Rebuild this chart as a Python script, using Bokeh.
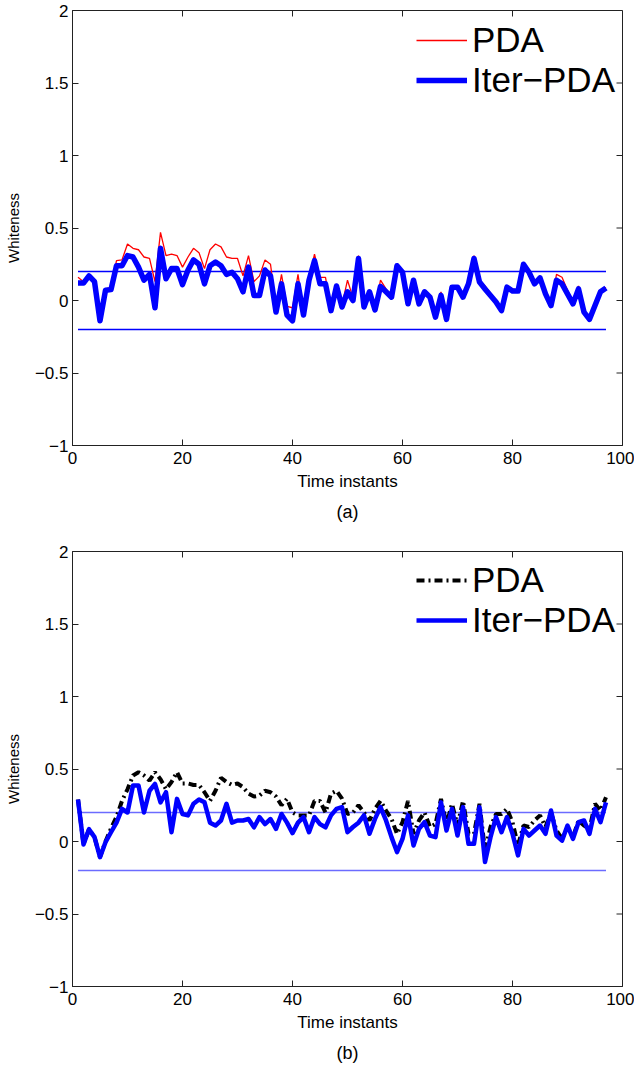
import math
from bokeh.plotting import figure
from bokeh.models import FixedTicker, Title, Legend, LegendItem
from bokeh.layouts import column
from bokeh.embed import file_html
from bokeh.resources import INLINE

# ---------------- data ----------------
time = list(range(1, 98))

pda_a = [0.16, 0.13, 0.17, 0.14, -0.13, 0.08, 0.09, 0.275, 0.28, 0.39,
         0.36, 0.35, 0.30, 0.29, 0.13, 0.47, 0.31, 0.32, 0.31, 0.23,
         0.30, 0.36, 0.33, 0.22, 0.35, 0.39, 0.37, 0.30, 0.29, 0.29,
         0.17, 0.31, 0.13, 0.17, 0.28, 0.25, -0.04, 0.18, -0.04, -0.05,
         0.18, -0.08, 0.15, 0.32, 0.16, 0.16, -0.06, 0.11, -0.03, 0.14,
         0.02, 0.31, -0.04, 0.07, -0.06, 0.14, 0.08, 0.03, 0.25, 0.20,
         -0.02, 0.15, -0.02, 0.07, 0.03, -0.11, 0.06, -0.12, 0.10, 0.10,
         0.03, 0.12, 0.31, 0.14, 0.10, 0.05, 0.00, -0.06, 0.10, 0.08,
         0.07, 0.26, 0.20, 0.12, 0.17, 0.05, -0.03, 0.18, 0.16, 0.07,
         -0.01, 0.10, -0.07, -0.12, -0.03, 0.07, 0.09]

iter_a = [0.12, 0.12, 0.17, 0.13, -0.14, 0.07, 0.075, 0.24, 0.24, 0.31,
          0.30, 0.23, 0.14, 0.18, -0.05, 0.36, 0.15, 0.22, 0.22, 0.11,
          0.21, 0.28, 0.25, 0.115, 0.24, 0.265, 0.24, 0.18, 0.195, 0.15,
          0.06, 0.23, 0.035, 0.035, 0.21, 0.17, -0.08, 0.115, -0.10, -0.14,
          0.115, -0.10, 0.14, 0.275, 0.115, 0.115, -0.07, 0.10, -0.045, 0.06,
          0.00, 0.29, -0.045, 0.06, -0.065, 0.097, 0.06, 0.023, 0.24, 0.195,
          -0.023, 0.14, -0.023, 0.06, 0.023, -0.115, 0.035, -0.13, 0.092, 0.092,
          0.023, 0.115, 0.29, 0.127, 0.08, 0.035, -0.01, -0.07, 0.092, 0.065,
          0.065, 0.25, 0.195, 0.115, 0.156, 0.046, -0.035, 0.14, 0.115, 0.046,
          -0.023, 0.08, -0.08, -0.13, -0.035, 0.06, 0.087]

pda_b = [0.29, -0.02, 0.085, 0.03, -0.108, 0.0, 0.09, 0.17, 0.28, 0.36,
         0.455, 0.478, 0.455, 0.42, 0.478, 0.43, 0.36, 0.41, 0.478, 0.40,
         0.40, 0.39, 0.39, 0.34, 0.28, 0.35, 0.44, 0.41, 0.39, 0.40,
         0.375, 0.33, 0.31, 0.317, 0.35, 0.34, 0.31, 0.25, 0.295, 0.20,
         0.18, 0.18, 0.18, 0.28, 0.28, 0.20, 0.33, 0.35, 0.295, 0.19,
         0.20, 0.25, 0.20, 0.145, 0.225, 0.28, 0.214, 0.156, 0.053, 0.133,
         0.28, 0.053, 0.145, 0.20, 0.10, 0.12, 0.294, 0.12, 0.26, 0.11,
         0.28, 0.053, 0.053, 0.26, -0.062, 0.10, 0.19, 0.19, 0.225, 0.133,
         -0.027, 0.11, 0.10, 0.145, 0.18, 0.10, 0.20, 0.076, 0.018, 0.10,
         0.03, 0.145, 0.11, 0.087, 0.26, 0.214, 0.305]

iter_b = [0.29, -0.02, 0.085, 0.03, -0.108, -0.005, 0.064, 0.13, 0.225, 0.20,
          0.386, 0.386, 0.20, 0.35, 0.397, 0.27, 0.34, 0.064, 0.294, 0.19,
          0.18, 0.26, 0.29, 0.27, 0.13, 0.11, 0.145, 0.26, 0.13, 0.145,
          0.145, 0.155, 0.098, 0.168, 0.12, 0.155, 0.087, 0.19, 0.13, 0.058,
          0.13, 0.168, 0.064, 0.168, 0.12, 0.098, 0.18, 0.225, 0.237, 0.064,
          0.10, 0.13, 0.18, 0.053, 0.156, 0.237, 0.145, 0.03, -0.073, 0.018,
          0.18, -0.027, 0.087, 0.133, 0.041, 0.03, 0.27, 0.076, 0.225, 0.041,
          0.237, -0.016, -0.016, 0.237, -0.142, 0.03, 0.168, 0.064, 0.168, 0.053,
          -0.096, 0.087, 0.041, 0.076, 0.11, 0.053, 0.214, 0.041, 0.006, 0.11,
          0.018, 0.133, 0.145, 0.053, 0.225, 0.133, 0.27]

bound_upper = 0.2
bound_lower = -0.2

x_ticks = [0, 20, 40, 60, 80, 100]
y_ticks = [-1, -0.5, 0, 0.5, 1, 1.5, 2]
y_tick_labels = ["\u22121", "\u22120.5", "0", "0.5", "1", "1.5", "2"]
x_lim = (0, 100)
y_lim = (-1, 2)

FONT = "Liberation Sans"
AXIS_COLOR = "#222222"


def make_panel(tag, min_top, min_bottom, title_standoff):
    p = figure(frame_width=550, frame_height=435, x_range=x_lim, y_range=y_lim,
               output_backend="svg", toolbar_location=None,
               min_border_left=72, min_border_right=12,
               min_border_top=min_top, min_border_bottom=min_bottom,
               background_fill_color="white", border_fill_color="white",
               outline_line_color=AXIS_COLOR, outline_line_width=1)
    p.grid.visible = False

    xa = p.xaxis[0]
    ya = p.yaxis[0]
    xa.ticker = FixedTicker(ticks=x_ticks)
    ya.ticker = FixedTicker(ticks=y_ticks)
    ya.major_label_overrides = dict(zip(y_ticks, y_tick_labels))
    xa.axis_label = "Time instants"
    ya.axis_label = "Whiteness"
    for ax in (xa, ya):
        ax.major_tick_in = 6
        ax.major_tick_out = 0
        ax.minor_tick_line_color = None
        ax.axis_line_color = AXIS_COLOR
        ax.major_tick_line_color = AXIS_COLOR
        ax.major_label_text_font = FONT
        ax.major_label_text_font_size = "17px"
        ax.major_label_text_color = "black"
        ax.axis_label_text_font = FONT
        ax.axis_label_text_font_style = "normal"
        ax.axis_label_text_color = "black"
    xa.major_label_standoff = 6
    xa.axis_label_standoff = 5
    xa.axis_label_text_font_size = "17px"
    ya.major_label_standoff = 4
    ya.axis_label_standoff = 10
    ya.axis_label_text_font_size = "15px"

    # tick marks on the top and right edges of the box (inward, 6 px)
    p.ray(x=x_ticks, y=[y_lim[1]] * len(x_ticks), length=6, length_units="screen",
          angle=-math.pi / 2, line_color=AXIS_COLOR, line_width=1)
    p.ray(x=[x_lim[1]] * len(y_ticks), y=y_ticks, length=6, length_units="screen",
          angle=math.pi, line_color=AXIS_COLOR, line_width=1)

    p.add_layout(Title(text=tag, align="center", text_font=FONT, text_font_size="18px",
                       text_font_style="normal", text_color="black",
                       standoff=title_standoff), "below")
    return p


def add_legend(p, items, loc):
    leg = Legend(items=items, location=loc, border_line_color=None,
                 background_fill_alpha=0, label_text_font=FONT, label_text_font_size="35px",
                 label_text_color="black", glyph_width=51, glyph_height=38, label_height=38,
                 label_standoff=5, padding=0, margin=0, spacing=0)
    p.add_layout(leg)


# ---------------- panel (a) ----------------
pa = make_panel("(a)", 10, 85, 12)
pa.line([time[0], time[-1]], [bound_upper, bound_upper], line_color="#0000ff", line_width=1.3)
pa.line([time[0], time[-1]], [bound_lower, bound_lower], line_color="#0000ff", line_width=1.3)
ra1 = pa.line(time, pda_a, line_color="#ff0000", line_width=1.3)
ra2 = pa.line(time, iter_a, line_color="#0000ff", line_width=5.5, line_join="round")
add_legend(pa, [LegendItem(label="PDA", renderers=[ra1]),
                LegendItem(label="Iter\u2212PDA", renderers=[ra2])], (344, 345))

# ---------------- panel (b) ----------------
pb = make_panel("(b)", 21, 81, 12)
pb.line([time[0], time[-1]], [bound_upper, bound_upper], line_color="#6b6bff", line_width=1.4)
pb.line([time[0], time[-1]], [bound_lower, bound_lower], line_color="#6b6bff", line_width=1.4)
rb1 = pb.line(time, pda_b, line_color="black", line_width=4, line_dash="8 4 2 4")
rb2 = pb.line(time, iter_b, line_color="#0000ff", line_width=4.5, line_join="round")
add_legend(pb, [LegendItem(label="PDA", renderers=[rb1]),
                LegendItem(label="Iter\u2212PDA", renderers=[rb2])], (344, 346))

layout = column(pa, pb, spacing=0)
open("out.html", "w").write(file_html(layout, INLINE))
